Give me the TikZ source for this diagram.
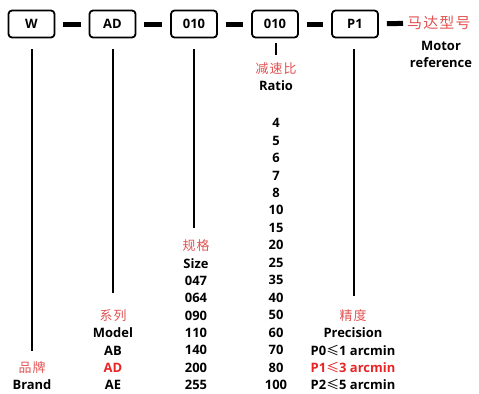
\documentclass[tikz,border=0pt]{standalone}
\usepackage{fontspec}
\setmainfont{Open Sans}
\newfontfamily\cjk{Noto Sans CJK SC}[LetterSpace=8]
\definecolor{cnred}{RGB}{226,82,82}
\definecolor{hired}{RGB}{232,36,36}
\begin{document}
\begin{tikzpicture}[x=1bp,y=-1bp,
  box/.style={draw, line width=1.8bp, rounded corners=3.5bp, minimum width=46bp, minimum height=27bp, inner sep=0pt, font=\bfseries\fontsize{13}{15}\selectfont},
  lbl/.style={inner sep=0pt, font=\bfseries\fontsize{13}{15}\selectfont},
  cn/.style={inner sep=0pt, text=cnred, font=\cjk\fontsize{13}{15}\selectfont},
  stem/.style={line width=2.4bp},
  link/.style={line width=5bp, shorten <=8bp, shorten >=8bp}]
\useasboundingbox (0,0) rectangle (479,393);
% boxes
\node[box] (w)   at (31.5,24) {W};
\node[box] (ad)  at (112.5,24) {AD};
\node[box] (sz)  at (194,24) {010};
\node[box] (rt)  at (275,24) {010};
\node[box] (p1)  at (355,24) {P1};
\node[cn, anchor=west, font=\cjk\fontsize{15}{17}\selectfont] (mt) at (407,23) {马达型号};
% links
\draw[link] (w) -- (ad);
\draw[link] (ad) -- (sz);
\draw[link] (sz) -- (rt);
\draw[link] (rt) -- (p1);
\draw[link, shorten >=4bp] (p1) -- (mt);
% stems
\coordinate (we) at (32,351);
\coordinate (ade) at (113,293);
\coordinate (sze) at (194,228);
\coordinate (rte) at (276,55);
\coordinate (p1e) at (354,296);
\draw[stem] ([yshift=-11bp]w.south -| we) -- (we);
\draw[stem] ([yshift=-11bp]ad.south -| ade) -- (ade);
\draw[stem] ([yshift=-11bp]sz.south -| sze) -- (sze);
\draw[stem] ([yshift=-5bp]rt.south -| rte) -- (rte);
\draw[stem] ([yshift=-11bp]p1.south -| p1e) -- (p1e);
% motor reference
\node[lbl] (mot) at (441,46) {Motor};
\node[lbl] (ref) at (441,63) {reference};
% brand
\node[cn] (pp) at (32,368) {品牌};
\node[lbl] (brand) at (32,385) {Brand};
% model
\node[cn] (xl) at (113,316) {系列};
\node[lbl] (model) at (113,333) {Model};
\node[lbl] (mab) at (113,351) {AB};
\node[lbl, text=hired] (mad) at (113,368) {AD};
\node[lbl] (mae) at (113,385) {AE};
% size
\node[cn] (gg) at (196,246) {规格};
\node[lbl] (size) at (196,264) {Size};
\foreach \v [count=\i from 0] in {047,064,090,110,140,200,255}
  \node[lbl] (s\i) at (196,281+17.33*\i) {\v};
% ratio
\node[cn] (jsb) at (276,69) {减速比};
\node[lbl] (ratio) at (276,86) {Ratio};
\foreach \v [count=\i from 0] in {4,5,6,7,8,10,15,20,25,35,40,50,60,70,80,100}
  \node[lbl] (r\i) at (276,123+17.47*\i) {\v};
% precision
\node[cn] (jd) at (353,316) {精度};
\node[lbl] (prec) at (353,333) {Precision};
\node[lbl] (pa) at (353,351) {P0{\cjk\mdseries ≤}1 arcmin};
\node[lbl, text=hired] (pb) at (353,368) {P1{\cjk\mdseries ≤}3 arcmin};
\node[lbl] (pc) at (353,385) {P2{\cjk\mdseries ≤}5 arcmin};
\end{tikzpicture}
\end{document}
